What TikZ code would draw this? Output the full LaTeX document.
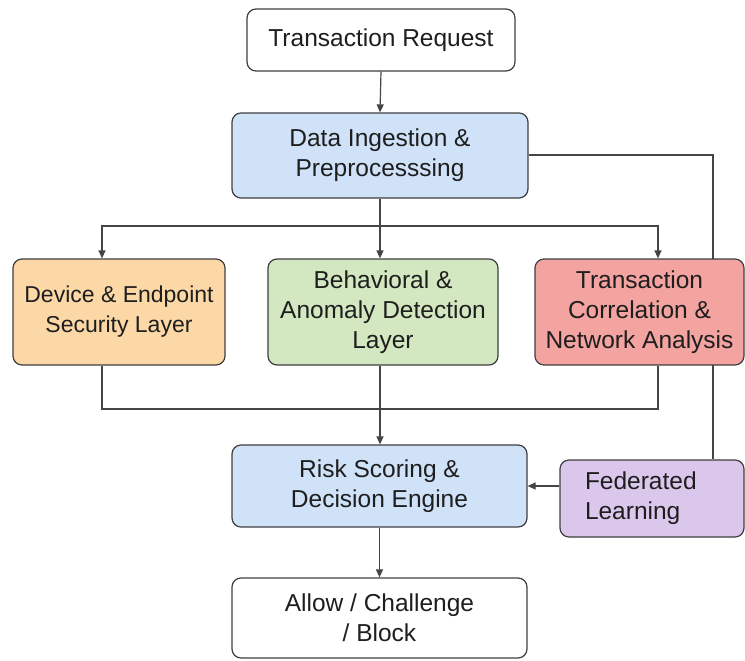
\documentclass[tikz,border=0pt]{standalone}
\usepackage{fontspec}
\setmainfont{Liberation Sans}
\usetikzlibrary{arrows.meta,backgrounds}
\definecolor{edgec}{HTML}{3F3F3F}
\definecolor{linec}{HTML}{454545}
\definecolor{textc}{HTML}{1E1E1E}
\definecolor{bluef}{HTML}{CFE2F8}
\definecolor{orangef}{HTML}{FCD8A6}
\definecolor{greenf}{HTML}{D3E8C1}
\definecolor{redf}{HTML}{F3A3A0}
\definecolor{purplef}{HTML}{DCC7EC}
\begin{document}
\begin{tikzpicture}[x=1pt,y=-1pt,
  box/.style={draw=edgec, line width=1.2pt, rounded corners=9pt, align=center, text=textc,
    font=\fontsize{24.5}{30}\selectfont, inner sep=0pt},
  conn/.style={draw=linec, line width=1.2pt},
  arr/.style={conn, -{Triangle[length=8pt,width=7pt]}}]
\useasboundingbox (0,0) rectangle (745,661);

\node[box, fill=white, minimum width=268pt, minimum height=62pt] (req) at (381,40) {Transaction Request};
\node[box, fill=bluef, minimum width=296pt, minimum height=85pt] (ing) at (380,155.5) {Data Ingestion \&\\Preprocesssing};
\node[box, fill=orangef, minimum width=212pt, minimum height=106pt, font=\fontsize{23}{30}\selectfont] (dev) at (119,312) {Device \& Endpoint\\Security Layer};
\node[box, fill=greenf, minimum width=230pt, minimum height=106pt] (beh) at (383,312) {Behavioral \&\\Anomaly Detection\\Layer};
\node[box, fill=redf, minimum width=209pt, minimum height=106pt] (cor) at (639.5,312) {Transaction\\Correlation \&\\Network Analysis};
\node[box, fill=bluef, minimum width=295pt, minimum height=82pt] (risk) at (379.5,486) {Risk Scoring \&\\Decision Engine};
\node[box, fill=purplef, minimum width=184pt, minimum height=77pt, align=left, text width=134pt] (fed) at (652,498.5) {Federated\\Learning};
\node[box, fill=white, minimum width=295pt, minimum height=80pt] (allow) at (379.5,618) {Allow / Challenge\\/ Block};

\coordinate (sp) at (380,226);
\coordinate (dl) at (102,226);
\coordinate (cr) at (658,226);
\coordinate (mdl) at (102,409);
\coordinate (mcr) at (658,409);
\coordinate (fk) at (713,155);

\begin{scope}[on background layer]
\fill[white] (0,0) rectangle (745,661);
\draw[arr] (req.south) -- (ing.north);
\draw[conn] (ing.south) -- (sp);
\draw[arr] (sp) -- (sp |- beh.north);
\draw[arr] (sp) -- (dl) -- (dl |- dev.north);
\draw[arr] (sp) -- (cr) -- (cr |- cor.north);
\draw[conn] (dl |- dev.south) -- (mdl) -- (mcr) -- (cr |- cor.south);
\draw[arr] (sp |- beh.south) -- (sp |- risk.north);
\draw[conn] (ing.east |- fk) -- (fk) -- (fk |- fed.north);
\draw[arr] (risk.east -| fed.west) -- (risk.east);
\draw[arr] (risk.south) -- (allow.north);
\end{scope}
\end{tikzpicture}
\end{document}
